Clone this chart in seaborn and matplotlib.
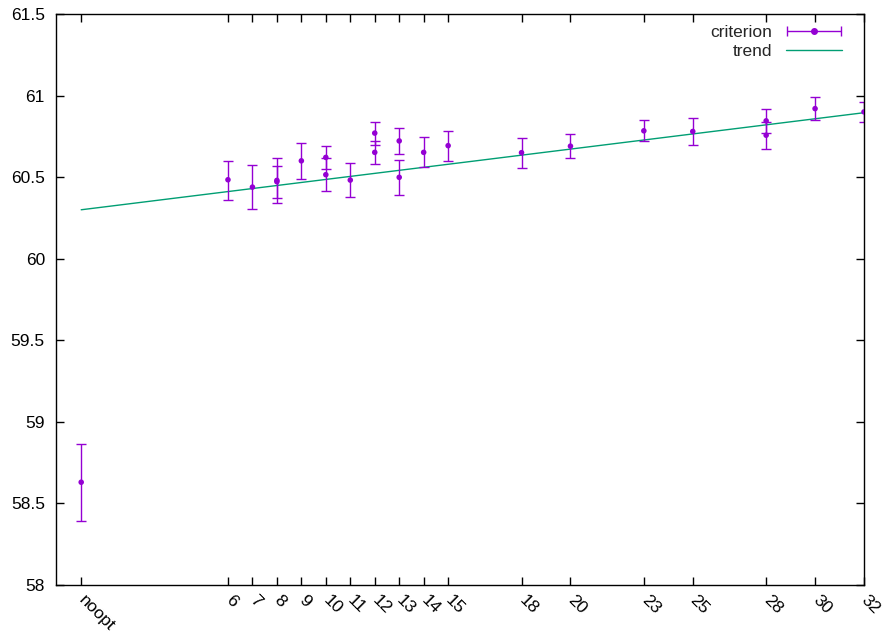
import numpy as np
import pandas as pd
import seaborn as sns
import matplotlib.pyplot as plt
import matplotlib.transforms as mtransforms
from matplotlib.container import ErrorbarContainer
from matplotlib.legend_handler import HandlerErrorbar

# measured points (x = 0 is the "noopt" baseline)
x_vals = [0, 6, 7, 8, 8, 9, 10, 10, 11, 12, 12, 13, 13, 14, 15, 18, 20, 23, 25, 28, 28, 30, 32]
y_vals = [58.63, 60.484, 60.439, 60.48, 60.472, 60.60, 60.621, 60.515, 60.482, 60.77, 60.652,
          60.722, 60.499, 60.652, 60.693, 60.65, 60.69, 60.784, 60.78, 60.845, 60.757, 60.92, 60.90]
y_low = [58.394, 60.362, 60.306, 60.341, 60.374, 60.489, 60.551, 60.414, 60.38, 60.70, 60.58,
         60.643, 60.392, 60.562, 60.60, 60.553, 60.618, 60.722, 60.70, 60.772, 60.67, 60.849, 60.835]
y_high = [58.863, 60.60, 60.576, 60.618, 60.566, 60.71, 60.693, 60.617, 60.584, 60.841, 60.72,
          60.80, 60.606, 60.745, 60.78, 60.74, 60.765, 60.85, 60.863, 60.92, 60.84, 60.99, 60.963]

trend_x = [0, 32]
trend_y = [60.30, 60.895]

tick_pos = [0, 6, 7, 8, 9, 10, 11, 12, 13, 14, 15, 18, 20, 23, 25, 28, 30, 32]
tick_lab = ["noopt", "6", "7", "8", "9", "10", "11", "12", "13", "14", "15",
            "18", "20", "23", "25", "28", "30", "32"]
ytick_pos = [58, 58.5, 59, 59.5, 60, 60.5, 61, 61.5]

purple = "#9400D3"
green = "#009E73"
fs = 12.5

sns.set_style("ticks")
plt.rcParams['font.family'] = ['Liberation Sans', 'DejaVu Sans']
plt.rcParams['font.size'] = fs

df = pd.DataFrame({"x": x_vals, "y": y_vals, "lo": y_low, "hi": y_high})
trend = pd.DataFrame({"x": trend_x, "y": trend_y})

fig = plt.figure(figsize=(8.87, 6.38), dpi=100)
ax = fig.add_axes([56 / 887, 1 - 585 / 638, (864 - 56) / 887, (585 - 14) / 638])

yerr = np.array([df["y"] - df["lo"], df["hi"] - df["y"]])
ax.errorbar(df["x"], df["y"], yerr=yerr, fmt="none", ecolor=purple, elinewidth=1,
            capsize=3.5, capthick=1, zorder=2)
sns.lineplot(data=trend, x="x", y="y", color=green, linewidth=1, ax=ax, zorder=1)
sns.scatterplot(data=df, x="x", y="y", color=purple, s=16, edgecolor="none", ax=ax, zorder=3)

# legend proxies in gnuplot style (horizontal error bar sample)
h_crit = ax.errorbar([np.nan], [np.nan], xerr=[[1]], fmt="o", color=purple, ms=4,
                     elinewidth=1, capsize=3.5, capthick=1)
h_trend, = ax.plot([], [], color=green, linewidth=1)
ax.legend([h_crit, h_trend], ["criterion", "trend"], loc="upper right", frameon=False,
          markerfirst=False, handlelength=3.2, borderaxespad=0, borderpad=0,
          bbox_to_anchor=(842 / 887, 1 - 25 / 638), bbox_transform=fig.transFigure,
          labelspacing=0.2, handletextpad=0.8, fontsize=fs,
          handler_map={ErrorbarContainer: HandlerErrorbar(xerr_size=1.55)})

ax.set_xlim(-1.03, 32)
ax.set_ylim(58, 61.5)
ax.set_xticks(tick_pos)
ax.set_xticklabels(tick_lab, rotation=-45, ha="left", va="center", rotation_mode="anchor")
shift = mtransforms.ScaledTranslation(-2.5 / 100, 0, fig.dpi_scale_trans)
for lab in ax.get_xticklabels():
    lab.set_transform(lab.get_transform() + shift)
ax.set_yticks(ytick_pos)
ax.set_yticklabels([f"{v:g}" for v in ytick_pos])
ax.tick_params(direction="in", length=6, width=1, top=True, right=True, colors="black",
               labelsize=fs)
ax.tick_params(axis="x", pad=9)
ax.tick_params(axis="y", pad=8)
ax.set_xlabel("")
ax.set_ylabel("")
for s in ax.spines.values():
    s.set_visible(True)
    s.set_color("black")
    s.set_linewidth(1)

fig.savefig("out.png", dpi=100)
